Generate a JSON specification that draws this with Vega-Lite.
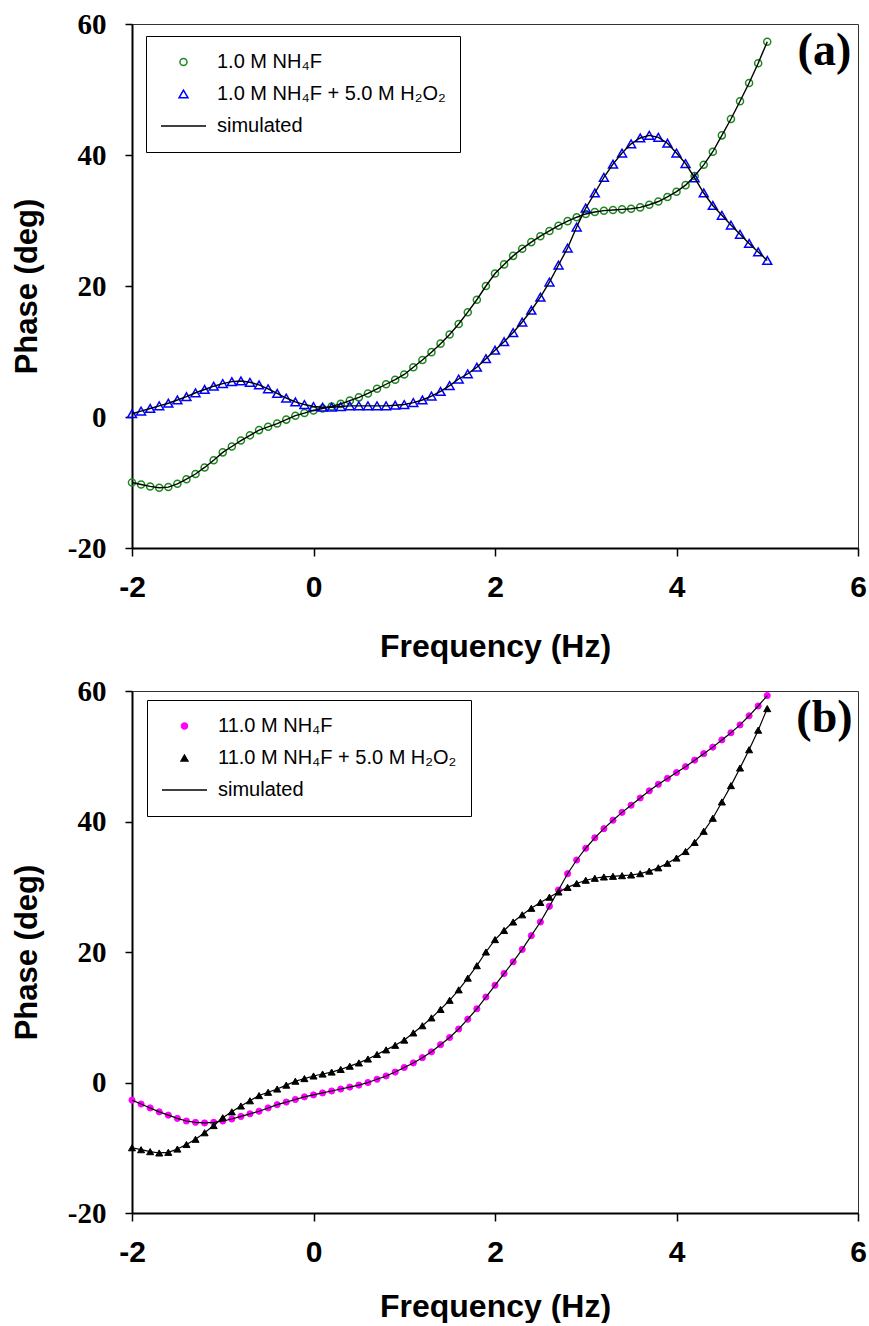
{
  "$schema": "https://vega.github.io/schema/vega-lite/v6.json",
  "padding": {"left": 10, "top": 9, "right": 8, "bottom": 0},
  "spacing": 13,
  "background": "white",
  "datasets": {
    "a": [
      {"freq": -2, "phase": -10.0, "series": "1.0 M NH₄F"},
      {"freq": -1.9, "phase": -10.3, "series": "1.0 M NH₄F"},
      {"freq": -1.8, "phase": -10.6, "series": "1.0 M NH₄F"},
      {"freq": -1.7, "phase": -10.8, "series": "1.0 M NH₄F"},
      {"freq": -1.6, "phase": -10.7, "series": "1.0 M NH₄F"},
      {"freq": -1.5, "phase": -10.2, "series": "1.0 M NH₄F"},
      {"freq": -1.4, "phase": -9.5, "series": "1.0 M NH₄F"},
      {"freq": -1.3, "phase": -8.7, "series": "1.0 M NH₄F"},
      {"freq": -1.2, "phase": -7.7, "series": "1.0 M NH₄F"},
      {"freq": -1.1, "phase": -6.6, "series": "1.0 M NH₄F"},
      {"freq": -1.0, "phase": -5.4, "series": "1.0 M NH₄F"},
      {"freq": -0.9, "phase": -4.5, "series": "1.0 M NH₄F"},
      {"freq": -0.8, "phase": -3.6, "series": "1.0 M NH₄F"},
      {"freq": -0.7, "phase": -2.8, "series": "1.0 M NH₄F"},
      {"freq": -0.6, "phase": -2.0, "series": "1.0 M NH₄F"},
      {"freq": -0.5, "phase": -1.5, "series": "1.0 M NH₄F"},
      {"freq": -0.4, "phase": -1.0, "series": "1.0 M NH₄F"},
      {"freq": -0.3, "phase": -0.4, "series": "1.0 M NH₄F"},
      {"freq": -0.2, "phase": 0.2, "series": "1.0 M NH₄F"},
      {"freq": -0.1, "phase": 0.6, "series": "1.0 M NH₄F"},
      {"freq": 0.0, "phase": 1.0, "series": "1.0 M NH₄F"},
      {"freq": 0.1, "phase": 1.3, "series": "1.0 M NH₄F"},
      {"freq": 0.2, "phase": 1.6, "series": "1.0 M NH₄F"},
      {"freq": 0.3, "phase": 2.0, "series": "1.0 M NH₄F"},
      {"freq": 0.4, "phase": 2.5, "series": "1.0 M NH₄F"},
      {"freq": 0.5, "phase": 3.0, "series": "1.0 M NH₄F"},
      {"freq": 0.6, "phase": 3.6, "series": "1.0 M NH₄F"},
      {"freq": 0.7, "phase": 4.3, "series": "1.0 M NH₄F"},
      {"freq": 0.8, "phase": 5.0, "series": "1.0 M NH₄F"},
      {"freq": 0.9, "phase": 5.7, "series": "1.0 M NH₄F"},
      {"freq": 1.0, "phase": 6.5, "series": "1.0 M NH₄F"},
      {"freq": 1.1, "phase": 7.6, "series": "1.0 M NH₄F"},
      {"freq": 1.2, "phase": 8.7, "series": "1.0 M NH₄F"},
      {"freq": 1.3, "phase": 9.9, "series": "1.0 M NH₄F"},
      {"freq": 1.4, "phase": 11.2, "series": "1.0 M NH₄F"},
      {"freq": 1.5, "phase": 12.6, "series": "1.0 M NH₄F"},
      {"freq": 1.6, "phase": 14.2, "series": "1.0 M NH₄F"},
      {"freq": 1.7, "phase": 16.0, "series": "1.0 M NH₄F"},
      {"freq": 1.8, "phase": 17.9, "series": "1.0 M NH₄F"},
      {"freq": 1.9, "phase": 20.0, "series": "1.0 M NH₄F"},
      {"freq": 2.0, "phase": 21.9, "series": "1.0 M NH₄F"},
      {"freq": 2.1, "phase": 23.3, "series": "1.0 M NH₄F"},
      {"freq": 2.2, "phase": 24.6, "series": "1.0 M NH₄F"},
      {"freq": 2.3, "phase": 25.7, "series": "1.0 M NH₄F"},
      {"freq": 2.4, "phase": 26.7, "series": "1.0 M NH₄F"},
      {"freq": 2.5, "phase": 27.6, "series": "1.0 M NH₄F"},
      {"freq": 2.6, "phase": 28.4, "series": "1.0 M NH₄F"},
      {"freq": 2.7, "phase": 29.2, "series": "1.0 M NH₄F"},
      {"freq": 2.8, "phase": 29.9, "series": "1.0 M NH₄F"},
      {"freq": 2.9, "phase": 30.5, "series": "1.0 M NH₄F"},
      {"freq": 3.0, "phase": 31.0, "series": "1.0 M NH₄F"},
      {"freq": 3.1, "phase": 31.3, "series": "1.0 M NH₄F"},
      {"freq": 3.2, "phase": 31.5, "series": "1.0 M NH₄F"},
      {"freq": 3.3, "phase": 31.6, "series": "1.0 M NH₄F"},
      {"freq": 3.4, "phase": 31.7, "series": "1.0 M NH₄F"},
      {"freq": 3.5, "phase": 31.8, "series": "1.0 M NH₄F"},
      {"freq": 3.6, "phase": 32.0, "series": "1.0 M NH₄F"},
      {"freq": 3.7, "phase": 32.4, "series": "1.0 M NH₄F"},
      {"freq": 3.8, "phase": 32.9, "series": "1.0 M NH₄F"},
      {"freq": 3.9, "phase": 33.6, "series": "1.0 M NH₄F"},
      {"freq": 4.0, "phase": 34.4, "series": "1.0 M NH₄F"},
      {"freq": 4.1, "phase": 35.4, "series": "1.0 M NH₄F"},
      {"freq": 4.2, "phase": 36.8, "series": "1.0 M NH₄F"},
      {"freq": 4.3, "phase": 38.5, "series": "1.0 M NH₄F"},
      {"freq": 4.4, "phase": 40.5, "series": "1.0 M NH₄F"},
      {"freq": 4.5, "phase": 43.0, "series": "1.0 M NH₄F"},
      {"freq": 4.6, "phase": 45.5, "series": "1.0 M NH₄F"},
      {"freq": 4.7, "phase": 48.2, "series": "1.0 M NH₄F"},
      {"freq": 4.8, "phase": 51.0, "series": "1.0 M NH₄F"},
      {"freq": 4.9, "phase": 54.0, "series": "1.0 M NH₄F"},
      {"freq": 5.0, "phase": 57.3, "series": "1.0 M NH₄F"},
      {"freq": -2, "phase": 0.5, "series": "1.0 M NH₄F + 5.0 M H₂O₂"},
      {"freq": -1.9, "phase": 0.9, "series": "1.0 M NH₄F + 5.0 M H₂O₂"},
      {"freq": -1.8, "phase": 1.3, "series": "1.0 M NH₄F + 5.0 M H₂O₂"},
      {"freq": -1.7, "phase": 1.7, "series": "1.0 M NH₄F + 5.0 M H₂O₂"},
      {"freq": -1.6, "phase": 2.1, "series": "1.0 M NH₄F + 5.0 M H₂O₂"},
      {"freq": -1.5, "phase": 2.6, "series": "1.0 M NH₄F + 5.0 M H₂O₂"},
      {"freq": -1.4, "phase": 3.1, "series": "1.0 M NH₄F + 5.0 M H₂O₂"},
      {"freq": -1.3, "phase": 3.7, "series": "1.0 M NH₄F + 5.0 M H₂O₂"},
      {"freq": -1.2, "phase": 4.2, "series": "1.0 M NH₄F + 5.0 M H₂O₂"},
      {"freq": -1.1, "phase": 4.7, "series": "1.0 M NH₄F + 5.0 M H₂O₂"},
      {"freq": -1.0, "phase": 5.1, "series": "1.0 M NH₄F + 5.0 M H₂O₂"},
      {"freq": -0.9, "phase": 5.4, "series": "1.0 M NH₄F + 5.0 M H₂O₂"},
      {"freq": -0.8, "phase": 5.5, "series": "1.0 M NH₄F + 5.0 M H₂O₂"},
      {"freq": -0.7, "phase": 5.3, "series": "1.0 M NH₄F + 5.0 M H₂O₂"},
      {"freq": -0.6, "phase": 4.9, "series": "1.0 M NH₄F + 5.0 M H₂O₂"},
      {"freq": -0.5, "phase": 4.3, "series": "1.0 M NH₄F + 5.0 M H₂O₂"},
      {"freq": -0.4, "phase": 3.6, "series": "1.0 M NH₄F + 5.0 M H₂O₂"},
      {"freq": -0.3, "phase": 2.9, "series": "1.0 M NH₄F + 5.0 M H₂O₂"},
      {"freq": -0.2, "phase": 2.3, "series": "1.0 M NH₄F + 5.0 M H₂O₂"},
      {"freq": -0.1, "phase": 1.9, "series": "1.0 M NH₄F + 5.0 M H₂O₂"},
      {"freq": 0.0, "phase": 1.6, "series": "1.0 M NH₄F + 5.0 M H₂O₂"},
      {"freq": 0.1, "phase": 1.5, "series": "1.0 M NH₄F + 5.0 M H₂O₂"},
      {"freq": 0.2, "phase": 1.5, "series": "1.0 M NH₄F + 5.0 M H₂O₂"},
      {"freq": 0.3, "phase": 1.6, "series": "1.0 M NH₄F + 5.0 M H₂O₂"},
      {"freq": 0.4, "phase": 1.7, "series": "1.0 M NH₄F + 5.0 M H₂O₂"},
      {"freq": 0.5, "phase": 1.7, "series": "1.0 M NH₄F + 5.0 M H₂O₂"},
      {"freq": 0.6, "phase": 1.7, "series": "1.0 M NH₄F + 5.0 M H₂O₂"},
      {"freq": 0.7, "phase": 1.7, "series": "1.0 M NH₄F + 5.0 M H₂O₂"},
      {"freq": 0.8, "phase": 1.7, "series": "1.0 M NH₄F + 5.0 M H₂O₂"},
      {"freq": 0.9, "phase": 1.8, "series": "1.0 M NH₄F + 5.0 M H₂O₂"},
      {"freq": 1.0, "phase": 1.9, "series": "1.0 M NH₄F + 5.0 M H₂O₂"},
      {"freq": 1.1, "phase": 2.2, "series": "1.0 M NH₄F + 5.0 M H₂O₂"},
      {"freq": 1.2, "phase": 2.6, "series": "1.0 M NH₄F + 5.0 M H₂O₂"},
      {"freq": 1.3, "phase": 3.2, "series": "1.0 M NH₄F + 5.0 M H₂O₂"},
      {"freq": 1.4, "phase": 3.9, "series": "1.0 M NH₄F + 5.0 M H₂O₂"},
      {"freq": 1.5, "phase": 4.8, "series": "1.0 M NH₄F + 5.0 M H₂O₂"},
      {"freq": 1.6, "phase": 5.8, "series": "1.0 M NH₄F + 5.0 M H₂O₂"},
      {"freq": 1.7, "phase": 6.6, "series": "1.0 M NH₄F + 5.0 M H₂O₂"},
      {"freq": 1.8, "phase": 7.6, "series": "1.0 M NH₄F + 5.0 M H₂O₂"},
      {"freq": 1.9, "phase": 8.9, "series": "1.0 M NH₄F + 5.0 M H₂O₂"},
      {"freq": 2.0, "phase": 10.2, "series": "1.0 M NH₄F + 5.0 M H₂O₂"},
      {"freq": 2.1, "phase": 11.5, "series": "1.0 M NH₄F + 5.0 M H₂O₂"},
      {"freq": 2.2, "phase": 12.9, "series": "1.0 M NH₄F + 5.0 M H₂O₂"},
      {"freq": 2.3, "phase": 14.5, "series": "1.0 M NH₄F + 5.0 M H₂O₂"},
      {"freq": 2.4, "phase": 16.3, "series": "1.0 M NH₄F + 5.0 M H₂O₂"},
      {"freq": 2.5, "phase": 18.3, "series": "1.0 M NH₄F + 5.0 M H₂O₂"},
      {"freq": 2.6, "phase": 20.6, "series": "1.0 M NH₄F + 5.0 M H₂O₂"},
      {"freq": 2.7, "phase": 23.2, "series": "1.0 M NH₄F + 5.0 M H₂O₂"},
      {"freq": 2.8, "phase": 25.8, "series": "1.0 M NH₄F + 5.0 M H₂O₂"},
      {"freq": 2.9, "phase": 29.0, "series": "1.0 M NH₄F + 5.0 M H₂O₂"},
      {"freq": 3.0, "phase": 31.9, "series": "1.0 M NH₄F + 5.0 M H₂O₂"},
      {"freq": 3.1, "phase": 34.2, "series": "1.0 M NH₄F + 5.0 M H₂O₂"},
      {"freq": 3.2, "phase": 36.6, "series": "1.0 M NH₄F + 5.0 M H₂O₂"},
      {"freq": 3.3, "phase": 38.6, "series": "1.0 M NH₄F + 5.0 M H₂O₂"},
      {"freq": 3.4, "phase": 40.3, "series": "1.0 M NH₄F + 5.0 M H₂O₂"},
      {"freq": 3.5, "phase": 41.7, "series": "1.0 M NH₄F + 5.0 M H₂O₂"},
      {"freq": 3.6, "phase": 42.6, "series": "1.0 M NH₄F + 5.0 M H₂O₂"},
      {"freq": 3.7, "phase": 43.0, "series": "1.0 M NH₄F + 5.0 M H₂O₂"},
      {"freq": 3.8, "phase": 42.7, "series": "1.0 M NH₄F + 5.0 M H₂O₂"},
      {"freq": 3.9, "phase": 41.8, "series": "1.0 M NH₄F + 5.0 M H₂O₂"},
      {"freq": 4.0, "phase": 40.3, "series": "1.0 M NH₄F + 5.0 M H₂O₂"},
      {"freq": 4.1, "phase": 38.7, "series": "1.0 M NH₄F + 5.0 M H₂O₂"},
      {"freq": 4.2, "phase": 36.5, "series": "1.0 M NH₄F + 5.0 M H₂O₂"},
      {"freq": 4.3, "phase": 34.2, "series": "1.0 M NH₄F + 5.0 M H₂O₂"},
      {"freq": 4.4, "phase": 32.3, "series": "1.0 M NH₄F + 5.0 M H₂O₂"},
      {"freq": 4.5, "phase": 30.8, "series": "1.0 M NH₄F + 5.0 M H₂O₂"},
      {"freq": 4.6, "phase": 29.3, "series": "1.0 M NH₄F + 5.0 M H₂O₂"},
      {"freq": 4.7, "phase": 27.9, "series": "1.0 M NH₄F + 5.0 M H₂O₂"},
      {"freq": 4.8, "phase": 26.5, "series": "1.0 M NH₄F + 5.0 M H₂O₂"},
      {"freq": 4.9, "phase": 25.2, "series": "1.0 M NH₄F + 5.0 M H₂O₂"},
      {"freq": 5.0, "phase": 23.9, "series": "1.0 M NH₄F + 5.0 M H₂O₂"}
    ],
    "b": [
      {"freq": -2, "phase": -2.7, "series": "11.0 M NH₄F"},
      {"freq": -1.9, "phase": -3.3, "series": "11.0 M NH₄F"},
      {"freq": -1.8, "phase": -3.9, "series": "11.0 M NH₄F"},
      {"freq": -1.7, "phase": -4.5, "series": "11.0 M NH₄F"},
      {"freq": -1.6, "phase": -5.0, "series": "11.0 M NH₄F"},
      {"freq": -1.5, "phase": -5.5, "series": "11.0 M NH₄F"},
      {"freq": -1.4, "phase": -5.9, "series": "11.0 M NH₄F"},
      {"freq": -1.3, "phase": -6.1, "series": "11.0 M NH₄F"},
      {"freq": -1.2, "phase": -6.2, "series": "11.0 M NH₄F"},
      {"freq": -1.1, "phase": -6.1, "series": "11.0 M NH₄F"},
      {"freq": -1.0, "phase": -5.9, "series": "11.0 M NH₄F"},
      {"freq": -0.9, "phase": -5.6, "series": "11.0 M NH₄F"},
      {"freq": -0.8, "phase": -5.2, "series": "11.0 M NH₄F"},
      {"freq": -0.7, "phase": -4.8, "series": "11.0 M NH₄F"},
      {"freq": -0.6, "phase": -4.4, "series": "11.0 M NH₄F"},
      {"freq": -0.5, "phase": -3.9, "series": "11.0 M NH₄F"},
      {"freq": -0.4, "phase": -3.4, "series": "11.0 M NH₄F"},
      {"freq": -0.3, "phase": -3.0, "series": "11.0 M NH₄F"},
      {"freq": -0.2, "phase": -2.6, "series": "11.0 M NH₄F"},
      {"freq": -0.1, "phase": -2.2, "series": "11.0 M NH₄F"},
      {"freq": 0.0, "phase": -1.9, "series": "11.0 M NH₄F"},
      {"freq": 0.1, "phase": -1.6, "series": "11.0 M NH₄F"},
      {"freq": 0.2, "phase": -1.3, "series": "11.0 M NH₄F"},
      {"freq": 0.3, "phase": -1.0, "series": "11.0 M NH₄F"},
      {"freq": 0.4, "phase": -0.7, "series": "11.0 M NH₄F"},
      {"freq": 0.5, "phase": -0.4, "series": "11.0 M NH₄F"},
      {"freq": 0.6, "phase": 0.0, "series": "11.0 M NH₄F"},
      {"freq": 0.7, "phase": 0.5, "series": "11.0 M NH₄F"},
      {"freq": 0.8, "phase": 1.0, "series": "11.0 M NH₄F"},
      {"freq": 0.9, "phase": 1.6, "series": "11.0 M NH₄F"},
      {"freq": 1.0, "phase": 2.3, "series": "11.0 M NH₄F"},
      {"freq": 1.1, "phase": 3.0, "series": "11.0 M NH₄F"},
      {"freq": 1.2, "phase": 3.8, "series": "11.0 M NH₄F"},
      {"freq": 1.3, "phase": 4.7, "series": "11.0 M NH₄F"},
      {"freq": 1.4, "phase": 5.8, "series": "11.0 M NH₄F"},
      {"freq": 1.5, "phase": 6.9, "series": "11.0 M NH₄F"},
      {"freq": 1.6, "phase": 8.2, "series": "11.0 M NH₄F"},
      {"freq": 1.7, "phase": 9.7, "series": "11.0 M NH₄F"},
      {"freq": 1.8, "phase": 11.3, "series": "11.0 M NH₄F"},
      {"freq": 1.9, "phase": 13.1, "series": "11.0 M NH₄F"},
      {"freq": 2.0, "phase": 14.9, "series": "11.0 M NH₄F"},
      {"freq": 2.1, "phase": 16.7, "series": "11.0 M NH₄F"},
      {"freq": 2.2, "phase": 18.5, "series": "11.0 M NH₄F"},
      {"freq": 2.3, "phase": 20.4, "series": "11.0 M NH₄F"},
      {"freq": 2.4, "phase": 22.5, "series": "11.0 M NH₄F"},
      {"freq": 2.5, "phase": 24.6, "series": "11.0 M NH₄F"},
      {"freq": 2.6, "phase": 27.0, "series": "11.0 M NH₄F"},
      {"freq": 2.7, "phase": 29.5, "series": "11.0 M NH₄F"},
      {"freq": 2.8, "phase": 32.0, "series": "11.0 M NH₄F"},
      {"freq": 2.9, "phase": 34.1, "series": "11.0 M NH₄F"},
      {"freq": 3.0, "phase": 35.9, "series": "11.0 M NH₄F"},
      {"freq": 3.1, "phase": 37.5, "series": "11.0 M NH₄F"},
      {"freq": 3.2, "phase": 38.9, "series": "11.0 M NH₄F"},
      {"freq": 3.3, "phase": 40.2, "series": "11.0 M NH₄F"},
      {"freq": 3.4, "phase": 41.4, "series": "11.0 M NH₄F"},
      {"freq": 3.5, "phase": 42.5, "series": "11.0 M NH₄F"},
      {"freq": 3.6, "phase": 43.6, "series": "11.0 M NH₄F"},
      {"freq": 3.7, "phase": 44.7, "series": "11.0 M NH₄F"},
      {"freq": 3.8, "phase": 45.7, "series": "11.0 M NH₄F"},
      {"freq": 3.9, "phase": 46.6, "series": "11.0 M NH₄F"},
      {"freq": 4.0, "phase": 47.5, "series": "11.0 M NH₄F"},
      {"freq": 4.1, "phase": 48.4, "series": "11.0 M NH₄F"},
      {"freq": 4.2, "phase": 49.4, "series": "11.0 M NH₄F"},
      {"freq": 4.3, "phase": 50.4, "series": "11.0 M NH₄F"},
      {"freq": 4.4, "phase": 51.4, "series": "11.0 M NH₄F"},
      {"freq": 4.5, "phase": 52.5, "series": "11.0 M NH₄F"},
      {"freq": 4.6, "phase": 53.6, "series": "11.0 M NH₄F"},
      {"freq": 4.7, "phase": 54.8, "series": "11.0 M NH₄F"},
      {"freq": 4.8, "phase": 56.2, "series": "11.0 M NH₄F"},
      {"freq": 4.9, "phase": 57.7, "series": "11.0 M NH₄F"},
      {"freq": 5.0, "phase": 59.3, "series": "11.0 M NH₄F"},
      {"freq": -2, "phase": -10.0, "series": "11.0 M NH₄F + 5.0 M H₂O₂"},
      {"freq": -1.9, "phase": -10.3, "series": "11.0 M NH₄F + 5.0 M H₂O₂"},
      {"freq": -1.8, "phase": -10.6, "series": "11.0 M NH₄F + 5.0 M H₂O₂"},
      {"freq": -1.7, "phase": -10.8, "series": "11.0 M NH₄F + 5.0 M H₂O₂"},
      {"freq": -1.6, "phase": -10.7, "series": "11.0 M NH₄F + 5.0 M H₂O₂"},
      {"freq": -1.5, "phase": -10.2, "series": "11.0 M NH₄F + 5.0 M H₂O₂"},
      {"freq": -1.4, "phase": -9.5, "series": "11.0 M NH₄F + 5.0 M H₂O₂"},
      {"freq": -1.3, "phase": -8.7, "series": "11.0 M NH₄F + 5.0 M H₂O₂"},
      {"freq": -1.2, "phase": -7.7, "series": "11.0 M NH₄F + 5.0 M H₂O₂"},
      {"freq": -1.1, "phase": -6.6, "series": "11.0 M NH₄F + 5.0 M H₂O₂"},
      {"freq": -1.0, "phase": -5.4, "series": "11.0 M NH₄F + 5.0 M H₂O₂"},
      {"freq": -0.9, "phase": -4.5, "series": "11.0 M NH₄F + 5.0 M H₂O₂"},
      {"freq": -0.8, "phase": -3.6, "series": "11.0 M NH₄F + 5.0 M H₂O₂"},
      {"freq": -0.7, "phase": -2.8, "series": "11.0 M NH₄F + 5.0 M H₂O₂"},
      {"freq": -0.6, "phase": -2.0, "series": "11.0 M NH₄F + 5.0 M H₂O₂"},
      {"freq": -0.5, "phase": -1.5, "series": "11.0 M NH₄F + 5.0 M H₂O₂"},
      {"freq": -0.4, "phase": -1.0, "series": "11.0 M NH₄F + 5.0 M H₂O₂"},
      {"freq": -0.3, "phase": -0.4, "series": "11.0 M NH₄F + 5.0 M H₂O₂"},
      {"freq": -0.2, "phase": 0.2, "series": "11.0 M NH₄F + 5.0 M H₂O₂"},
      {"freq": -0.1, "phase": 0.6, "series": "11.0 M NH₄F + 5.0 M H₂O₂"},
      {"freq": 0.0, "phase": 1.0, "series": "11.0 M NH₄F + 5.0 M H₂O₂"},
      {"freq": 0.1, "phase": 1.3, "series": "11.0 M NH₄F + 5.0 M H₂O₂"},
      {"freq": 0.2, "phase": 1.6, "series": "11.0 M NH₄F + 5.0 M H₂O₂"},
      {"freq": 0.3, "phase": 2.0, "series": "11.0 M NH₄F + 5.0 M H₂O₂"},
      {"freq": 0.4, "phase": 2.5, "series": "11.0 M NH₄F + 5.0 M H₂O₂"},
      {"freq": 0.5, "phase": 3.0, "series": "11.0 M NH₄F + 5.0 M H₂O₂"},
      {"freq": 0.6, "phase": 3.6, "series": "11.0 M NH₄F + 5.0 M H₂O₂"},
      {"freq": 0.7, "phase": 4.3, "series": "11.0 M NH₄F + 5.0 M H₂O₂"},
      {"freq": 0.8, "phase": 5.0, "series": "11.0 M NH₄F + 5.0 M H₂O₂"},
      {"freq": 0.9, "phase": 5.7, "series": "11.0 M NH₄F + 5.0 M H₂O₂"},
      {"freq": 1.0, "phase": 6.5, "series": "11.0 M NH₄F + 5.0 M H₂O₂"},
      {"freq": 1.1, "phase": 7.6, "series": "11.0 M NH₄F + 5.0 M H₂O₂"},
      {"freq": 1.2, "phase": 8.7, "series": "11.0 M NH₄F + 5.0 M H₂O₂"},
      {"freq": 1.3, "phase": 9.9, "series": "11.0 M NH₄F + 5.0 M H₂O₂"},
      {"freq": 1.4, "phase": 11.2, "series": "11.0 M NH₄F + 5.0 M H₂O₂"},
      {"freq": 1.5, "phase": 12.6, "series": "11.0 M NH₄F + 5.0 M H₂O₂"},
      {"freq": 1.6, "phase": 14.2, "series": "11.0 M NH₄F + 5.0 M H₂O₂"},
      {"freq": 1.7, "phase": 16.0, "series": "11.0 M NH₄F + 5.0 M H₂O₂"},
      {"freq": 1.8, "phase": 17.9, "series": "11.0 M NH₄F + 5.0 M H₂O₂"},
      {"freq": 1.9, "phase": 20.0, "series": "11.0 M NH₄F + 5.0 M H₂O₂"},
      {"freq": 2.0, "phase": 21.9, "series": "11.0 M NH₄F + 5.0 M H₂O₂"},
      {"freq": 2.1, "phase": 23.3, "series": "11.0 M NH₄F + 5.0 M H₂O₂"},
      {"freq": 2.2, "phase": 24.6, "series": "11.0 M NH₄F + 5.0 M H₂O₂"},
      {"freq": 2.3, "phase": 25.7, "series": "11.0 M NH₄F + 5.0 M H₂O₂"},
      {"freq": 2.4, "phase": 26.7, "series": "11.0 M NH₄F + 5.0 M H₂O₂"},
      {"freq": 2.5, "phase": 27.6, "series": "11.0 M NH₄F + 5.0 M H₂O₂"},
      {"freq": 2.6, "phase": 28.4, "series": "11.0 M NH₄F + 5.0 M H₂O₂"},
      {"freq": 2.7, "phase": 29.2, "series": "11.0 M NH₄F + 5.0 M H₂O₂"},
      {"freq": 2.8, "phase": 29.9, "series": "11.0 M NH₄F + 5.0 M H₂O₂"},
      {"freq": 2.9, "phase": 30.5, "series": "11.0 M NH₄F + 5.0 M H₂O₂"},
      {"freq": 3.0, "phase": 31.0, "series": "11.0 M NH₄F + 5.0 M H₂O₂"},
      {"freq": 3.1, "phase": 31.3, "series": "11.0 M NH₄F + 5.0 M H₂O₂"},
      {"freq": 3.2, "phase": 31.5, "series": "11.0 M NH₄F + 5.0 M H₂O₂"},
      {"freq": 3.3, "phase": 31.6, "series": "11.0 M NH₄F + 5.0 M H₂O₂"},
      {"freq": 3.4, "phase": 31.7, "series": "11.0 M NH₄F + 5.0 M H₂O₂"},
      {"freq": 3.5, "phase": 31.8, "series": "11.0 M NH₄F + 5.0 M H₂O₂"},
      {"freq": 3.6, "phase": 32.0, "series": "11.0 M NH₄F + 5.0 M H₂O₂"},
      {"freq": 3.7, "phase": 32.4, "series": "11.0 M NH₄F + 5.0 M H₂O₂"},
      {"freq": 3.8, "phase": 32.9, "series": "11.0 M NH₄F + 5.0 M H₂O₂"},
      {"freq": 3.9, "phase": 33.6, "series": "11.0 M NH₄F + 5.0 M H₂O₂"},
      {"freq": 4.0, "phase": 34.4, "series": "11.0 M NH₄F + 5.0 M H₂O₂"},
      {"freq": 4.1, "phase": 35.4, "series": "11.0 M NH₄F + 5.0 M H₂O₂"},
      {"freq": 4.2, "phase": 36.8, "series": "11.0 M NH₄F + 5.0 M H₂O₂"},
      {"freq": 4.3, "phase": 38.5, "series": "11.0 M NH₄F + 5.0 M H₂O₂"},
      {"freq": 4.4, "phase": 40.5, "series": "11.0 M NH₄F + 5.0 M H₂O₂"},
      {"freq": 4.5, "phase": 43.0, "series": "11.0 M NH₄F + 5.0 M H₂O₂"},
      {"freq": 4.6, "phase": 45.5, "series": "11.0 M NH₄F + 5.0 M H₂O₂"},
      {"freq": 4.7, "phase": 48.2, "series": "11.0 M NH₄F + 5.0 M H₂O₂"},
      {"freq": 4.8, "phase": 51.0, "series": "11.0 M NH₄F + 5.0 M H₂O₂"},
      {"freq": 4.9, "phase": 54.0, "series": "11.0 M NH₄F + 5.0 M H₂O₂"},
      {"freq": 5.0, "phase": 57.3, "series": "11.0 M NH₄F + 5.0 M H₂O₂"}
    ]
  },
  "vconcat": [
    {
      "width": 726,
      "height": 524,
      "layer": [
        {
          "data": {"name": "a"},
          "mark": {"type": "point", "filled": false, "strokeWidth": 1.5, "opacity": 1},
          "encoding": {
            "x": {"field": "freq", "type": "quantitative", "scale": {"domain": [-2, 6], "nice": false, "zero": false},
              "axis": {"title": "Frequency (Hz)", "values": [-2, 0, 2, 4, 6], "labelExpr": "datum.value < 0 ? '-' + abs(datum.value) : '' + datum.value", "grid": false, "domainColor": "black", "domainWidth": 2, "tickColor": "black", "tickWidth": 1.5, "tickSize": 8, "labelColor": "black", "labelFont": "Liberation Sans", "labelFontWeight": "bold", "labelFontSize": 30, "labelPadding": 16, "labelFlush": false, "labelOverlap": false, "minExtent": 54, "maxExtent": 54, "titleColor": "black", "titleFont": "Liberation Sans", "titleFontWeight": "bold", "titleFontSize": 32, "titlePadding": 29}},
            "y": {"field": "phase", "type": "quantitative", "scale": {"domain": [-20, 60], "nice": false, "zero": false},
              "axis": {"title": "Phase (deg)", "values": [-20, 0, 20, 40, 60], "labelExpr": "datum.value < 0 ? '-' + abs(datum.value) : '' + datum.value", "grid": false, "domainColor": "black", "domainWidth": 2, "tickColor": "black", "tickWidth": 1.5, "tickSize": 7, "labelColor": "black", "labelFont": "Liberation Serif", "labelFontWeight": "bold", "labelFontSize": 29, "labelPadding": 19, "labelFlush": false, "labelOverlap": false, "minExtent": 63, "maxExtent": 63, "titleColor": "black", "titleFont": "Liberation Sans", "titleFontWeight": "bold", "titleFontSize": 31, "titlePadding": 26}},
            "color": {
              "field": "series", "type": "nominal",
              "scale": {"domain": ["1.0 M NH₄F", "1.0 M NH₄F + 5.0 M H₂O₂", "simulated"], "range": ["#1d8a1d", "#0000ff", "#000000"]},
              "legend": {"title": null, "orient": "none", "legendX": 14, "legendY": 12, "strokeColor": "black", "padding": 14, "rowPadding": 8, "clipHeight": 24, "labelFont": "Liberation Sans", "labelFontSize": 20, "labelColor": "black", "labelLimit": 400, "labelOffset": 10, "symbolStrokeWidth": 1.5, "symbolOffset": 0,
                "encode": {"legend": {"update": {"strokeWidth": {"value": 1.5}}}}}
            },
            "shape": {"field": "series", "type": "nominal", "scale": {"domain": ["1.0 M NH₄F", "1.0 M NH₄F + 5.0 M H₂O₂", "simulated"], "range": ["circle", "triangle-up", "stroke"]}},
            "size": {"field": "series", "type": "nominal", "scale": {"type": "ordinal", "domain": ["1.0 M NH₄F", "1.0 M NH₄F + 5.0 M H₂O₂", "simulated"], "range": [50, 80, 2025]}}
          }
        },
        {
          "data": {"name": "a"},
          "mark": {"type": "line", "color": "black", "strokeWidth": 1.4},
          "encoding": {
            "x": {"field": "freq", "type": "quantitative"},
            "y": {"field": "phase", "type": "quantitative"},
            "detail": {"field": "series", "type": "nominal"}
          }
        },
        {
          "data": {"values": [{}]},
          "mark": {"type": "text", "text": "(a)", "font": "Liberation Serif", "fontWeight": "bold", "fontSize": 46, "align": "center", "baseline": "middle", "color": "black"},
          "encoding": {"x": {"datum": 5.63}, "y": {"datum": 55.9}}
        }
      ]
    },
    {
      "width": 726,
      "height": 522,
      "layer": [
        {
          "data": {"name": "b"},
          "mark": {"type": "point", "filled": false, "strokeWidth": 1, "opacity": 1, "fillOpacity": 1},
          "encoding": {
            "x": {"field": "freq", "type": "quantitative", "scale": {"domain": [-2, 6], "nice": false, "zero": false},
              "axis": {"title": "Frequency (Hz)", "values": [-2, 0, 2, 4, 6], "labelExpr": "datum.value < 0 ? '-' + abs(datum.value) : '' + datum.value", "grid": false, "domainColor": "black", "domainWidth": 2, "tickColor": "black", "tickWidth": 1.5, "tickSize": 8, "labelColor": "black", "labelFont": "Liberation Sans", "labelFontWeight": "bold", "labelFontSize": 30, "labelPadding": 16, "labelFlush": false, "labelOverlap": false, "minExtent": 54, "maxExtent": 54, "titleColor": "black", "titleFont": "Liberation Sans", "titleFontWeight": "bold", "titleFontSize": 32, "titlePadding": 24}},
            "y": {"field": "phase", "type": "quantitative", "scale": {"domain": [-20, 60], "nice": false, "zero": false},
              "axis": {"title": "Phase (deg)", "values": [-20, 0, 20, 40, 60], "labelExpr": "datum.value < 0 ? '-' + abs(datum.value) : '' + datum.value", "grid": false, "domainColor": "black", "domainWidth": 2, "tickColor": "black", "tickWidth": 1.5, "tickSize": 7, "labelColor": "black", "labelFont": "Liberation Serif", "labelFontWeight": "bold", "labelFontSize": 29, "labelPadding": 19, "labelFlush": false, "labelOverlap": false, "minExtent": 63, "maxExtent": 63, "titleColor": "black", "titleFont": "Liberation Sans", "titleFontWeight": "bold", "titleFontSize": 31, "titlePadding": 26}},
            "color": {
              "field": "series", "type": "nominal",
              "scale": {"domain": ["11.0 M NH₄F", "11.0 M NH₄F + 5.0 M H₂O₂", "simulated"], "range": ["#ff00ff", "#000000", "#000000"]},
              "legend": {"title": null, "orient": "none", "legendX": 15, "legendY": 9, "strokeColor": "black", "padding": 14, "rowPadding": 8, "clipHeight": 24, "labelFont": "Liberation Sans", "labelFontSize": 20, "labelColor": "black", "labelLimit": 400, "labelOffset": 10, "symbolStrokeWidth": 1.3, "symbolOffset": 0,
                "encode": {"legend": {"update": {"strokeWidth": {"value": 1.5}}}}}
            },
            "fill": {
              "field": "series", "type": "nominal",
              "scale": {"domain": ["11.0 M NH₄F", "11.0 M NH₄F + 5.0 M H₂O₂", "simulated"], "range": ["#ff00ff", "#000000", "transparent"]},
              "legend": {"title": null, "orient": "none", "legendX": 15, "legendY": 9, "strokeColor": "black", "padding": 14, "rowPadding": 8, "clipHeight": 24, "labelFont": "Liberation Sans", "labelFontSize": 20, "labelColor": "black", "labelLimit": 400, "labelOffset": 10, "symbolStrokeWidth": 1.3, "symbolOffset": 0}
            },
            "shape": {"field": "series", "type": "nominal", "scale": {"domain": ["11.0 M NH₄F", "11.0 M NH₄F + 5.0 M H₂O₂", "simulated"], "range": ["circle", "triangle-up", "stroke"]}},
            "size": {"field": "series", "type": "nominal", "scale": {"type": "ordinal", "domain": ["11.0 M NH₄F", "11.0 M NH₄F + 5.0 M H₂O₂", "simulated"], "range": [38, 50, 2025]}}
          }
        },
        {
          "data": {"name": "b"},
          "mark": {"type": "line", "color": "black", "strokeWidth": 1.2},
          "encoding": {
            "x": {"field": "freq", "type": "quantitative"},
            "y": {"field": "phase", "type": "quantitative"},
            "detail": {"field": "series", "type": "nominal"}
          }
        },
        {
          "data": {"values": [{}]},
          "mark": {"type": "text", "text": "(b)", "font": "Liberation Serif", "fontWeight": "bold", "fontSize": 46, "align": "center", "baseline": "middle", "color": "black"},
          "encoding": {"x": {"datum": 5.63}, "y": {"datum": 55.9}}
        }
      ]
    }
  ],
  "resolve": {
    "scale": {"color": "independent", "fill": "independent", "shape": "independent", "size": "independent"},
    "legend": {"color": "independent", "fill": "independent", "shape": "independent", "size": "independent"}
  },
  "config": {
    "view": {"stroke": "#333333", "strokeWidth": 1}
  }
}
